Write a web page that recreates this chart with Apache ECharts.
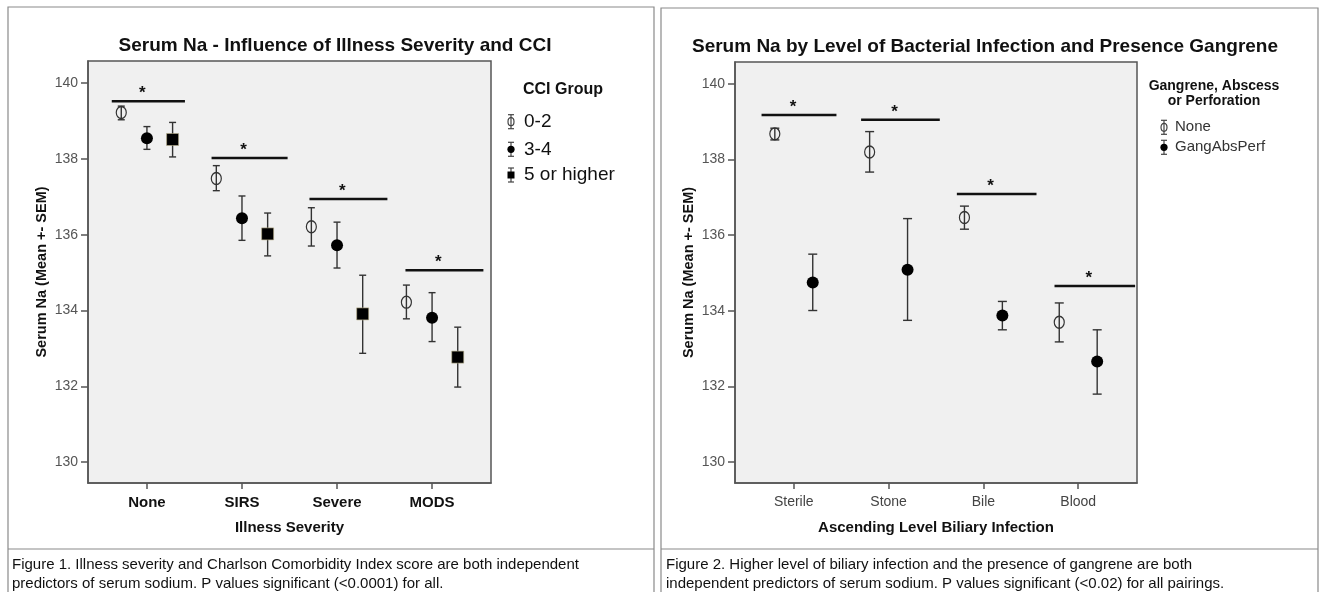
<!DOCTYPE html>
<html>
<head>
<meta charset="utf-8">
<script src="https://cdn.jsdelivr.net/npm/echarts@6/dist/echarts.min.js"></script>
<style>
  html, body { margin: 0; padding: 0; background: #fff; }
  #chart { width: 1322px; height: 592px; }
</style>
</head>
<body>
<div id="chart"></div>
<script>
// figure 1 - illness severity x CCI group
const severityCats = ['None', 'SIRS', 'Severe', 'MODS'];
const cciGroups = ['0-2', '3-4', '5 or higher'];
const cciMean = [
  [139.22, 137.48, 136.21, 134.22],
  [138.54, 136.43, 135.72, 133.81],
  [138.51, 136.02, 133.91, 132.77],
];
const cciLow = [
  [139.03, 137.16, 135.70, 133.78],
  [138.25, 135.85, 135.12, 133.18],
  [138.05, 135.44, 132.87, 131.98],
];
const cciHigh = [
  [139.39, 137.82, 136.71, 134.67],
  [138.85, 137.02, 136.33, 134.47],
  [138.96, 136.57, 134.93, 133.56],
];
const cciSigY = [139.52, 138.02, 136.94, 135.06];
const cciSigFrom = [-0.37, -0.32, -0.29, -0.28];
const cciSigTo = [0.40, 0.48, 0.53, 0.54];

// figure 2 - biliary infection x gangrene
const infectionCats = ['Sterile', 'Stone', 'Bile', 'Blood'];
const gangGroups = ['None', 'GangAbsPerf'];
const gangMean = [
  [138.68, 138.20, 136.47, 133.70],
  [134.75, 135.09, 133.88, 132.66],
];
const gangLow = [
  [138.52, 137.67, 136.16, 133.18],
  [134.01, 133.75, 133.50, 131.80],
];
const gangHigh = [
  [138.83, 138.74, 136.77, 134.21],
  [135.50, 136.44, 134.25, 133.50],
];
const gangSigY = [139.18, 139.05, 137.09, 134.66];
const gangSigFrom = [-0.34, -0.29, -0.28, -0.25];
const gangSigTo = [0.45, 0.54, 0.56, 0.60];

const yTicks = [130, 132, 134, 136, 138, 140];
const catTicks = [0, 1, 2, 3];

const FONT = 'Liberation Sans, Arial, sans-serif';

const chart = echarts.init(document.getElementById('chart'));

function errorBar(capHalf) {
  return (params, api) => {
    const x = api.value(0);
    const lo = api.coord([x, api.value(1)]);
    const hi = api.coord([x, api.value(2)]);
    const st = { stroke: '#333', lineWidth: 1.4 };
    return {
      type: 'group',
      children: [
        { type: 'line', shape: { x1: lo[0], y1: lo[1], x2: hi[0], y2: hi[1] }, style: st },
        { type: 'line', shape: { x1: lo[0] - capHalf, y1: lo[1], x2: lo[0] + capHalf, y2: lo[1] }, style: st },
        { type: 'line', shape: { x1: hi[0] - capHalf, y1: hi[1], x2: hi[0] + capHalf, y2: hi[1] }, style: st },
      ],
    };
  };
}

function sigBar(params, api) {
  const c = api.value(0);
  const y = api.value(1);
  const p1 = api.coord([c + api.value(2), y]);
  const p2 = api.coord([c + api.value(3), y]);
  return {
    type: 'group',
    children: [
      { type: 'line', shape: { x1: p1[0], y1: p1[1], x2: p2[0], y2: p2[1] }, style: { stroke: '#111', lineWidth: 2.5 } },
      {
        type: 'text',
        x: (p1[0] + p2[0]) / 2 - 6,
        y: p1[1] + 1,
        style: { text: '*', fill: '#111', font: 'bold 17px ' + FONT, align: 'center', verticalAlign: 'bottom' },
      },
    ],
  };
}

const markerStyle = [
  { symbol: 'circle', symbolSize: [10, 12], itemStyle: { color: 'transparent', borderColor: '#333', borderWidth: 1.3, opacity: 1 } },
  { symbol: 'circle', symbolSize: 12, itemStyle: { color: '#000', opacity: 1 } },
  { symbol: 'rect', symbolSize: 12, itemStyle: { color: '#000', borderColor: '#b8b08a', borderWidth: 0.6, opacity: 1 } },
];

function buildSeries(idx, groups, mean, low, high, step, cap, sigY, sigFrom, sigTo) {
  const out = [];
  groups.forEach((g, gi) => {
    const off = (gi - (groups.length - 1) / 2) * step;
    out.push({
      type: 'custom',
      xAxisIndex: idx,
      yAxisIndex: idx,
      z: 2,
      silent: true,
      renderItem: errorBar(cap),
      data: mean[gi].map((m, ci) => [ci + off, low[gi][ci], high[gi][ci]]),
    });
    const ms = markerStyle[gi];
    out.push({
      type: 'scatter',
      name: g,
      xAxisIndex: idx,
      yAxisIndex: idx,
      z: 3,
      silent: true,
      symbol: ms.symbol,
      symbolSize: ms.symbolSize,
      itemStyle: ms.itemStyle,
      data: mean[gi].map((m, ci) => [ci + off, m]),
    });
  });
  out.push({
    type: 'custom',
    xAxisIndex: idx,
    yAxisIndex: idx,
    z: 4,
    silent: true,
    renderItem: sigBar,
    data: sigY.map((y, ci) => [ci, y, sigFrom[ci], sigTo[ci]]),
  });
  return out;
}

function xAxisFor(idx, cats, bold, name) {
  return {
    type: 'value',
    gridIndex: idx,
    min: -0.62,
    max: 3.62,
    name: name,
    nameLocation: 'middle',
    nameGap: 37,
    nameTextStyle: { fontFamily: FONT, fontWeight: 'bold', fontSize: 15, color: '#111' },
    axisLine: { onZero: false, lineStyle: { color: '#555', width: 1.5 } },
    axisTick: { customValues: catTicks, length: 6, lineStyle: { color: '#555', width: 1.5 } },
    axisLabel: {
      customValues: catTicks,
      margin: 12,
      formatter: (v) => cats[Math.round(v)],
      fontFamily: FONT,
      fontSize: bold ? 15 : 14,
      fontWeight: bold ? 'bold' : 'normal',
      color: bold ? '#111' : '#444',
    },
    splitLine: { show: false },
  };
}

function yAxisFor(idx) {
  return {
    type: 'value',
    gridIndex: idx,
    min: 129.45,
    max: 140.58,
    name: 'Serum Na (Mean +- SEM)',
    nameLocation: 'middle',
    nameRotate: 90,
    nameGap: 39,
    nameTextStyle: { fontFamily: FONT, fontWeight: 'bold', fontSize: 14.5, color: '#111' },
    axisLine: { show: true, onZero: false, lineStyle: { color: '#555', width: 1.5 } },
    axisTick: { show: true, customValues: yTicks, length: 7, lineStyle: { color: '#555', width: 1.5 } },
    axisLabel: { customValues: yTicks, margin: 10, fontFamily: FONT, fontSize: 14, color: '#555' },
    splitLine: { show: false },
  };
}

function legendIcon(x, y, kind) {
  const st = { stroke: '#444', lineWidth: 1.2 };
  const kids = [
    { type: 'line', shape: { x1: x, y1: y - 7, x2: x, y2: y + 7 }, style: st },
    { type: 'line', shape: { x1: x - 3, y1: y - 7, x2: x + 3, y2: y - 7 }, style: st },
    { type: 'line', shape: { x1: x - 3, y1: y + 7, x2: x + 3, y2: y + 7 }, style: st },
  ];
  if (kind === 0) kids.push({ type: 'ellipse', shape: { cx: x, cy: y, rx: 3, ry: 4 }, style: { fill: 'none', stroke: '#444', lineWidth: 1.2 } });
  if (kind === 1) kids.push({ type: 'circle', shape: { cx: x, cy: y, r: 3.6 }, style: { fill: '#000' } });
  if (kind === 2) kids.push({ type: 'rect', shape: { x: x - 3.5, y: y - 3.5, width: 7, height: 7 }, style: { fill: '#000' } });
  return { type: 'group', children: kids };
}

const graphics = [
  // panel frames
  { type: 'rect', shape: { x: 8, y: 7, width: 646, height: 600 }, style: { fill: 'none', stroke: '#8a8a8a', lineWidth: 1.2 } },
  { type: 'line', shape: { x1: 8, y1: 549, x2: 654, y2: 549 }, style: { stroke: '#8a8a8a', lineWidth: 1.2 } },
  { type: 'rect', shape: { x: 661, y: 8, width: 657, height: 600 }, style: { fill: 'none', stroke: '#8a8a8a', lineWidth: 1.2 } },
  { type: 'line', shape: { x1: 661, y1: 549, x2: 1318, y2: 549 }, style: { stroke: '#8a8a8a', lineWidth: 1.2 } },
  // captions
  {
    type: 'text', left: 12, top: 555,
    style: {
      text: 'Figure 1. Illness severity and Charlson Comorbidity Index score are both independent\npredictors of serum sodium. P values significant (<0.0001) for all.',
      font: '15px ' + FONT, fill: '#111', lineHeight: 19,
    },
  },
  {
    type: 'text', left: 666, top: 555,
    style: {
      text: 'Figure 2. Higher level of biliary infection and the presence of gangrene are both\nindependent predictors of serum sodium. P values significant (<0.02) for all pairings.',
      font: '15px ' + FONT, fill: '#111', lineHeight: 19,
    },
  },
  // legend 1
  { type: 'text', x: 563, y: 90, style: { text: 'CCI Group', font: 'bold 16px ' + FONT, fill: '#111', align: 'center', verticalAlign: 'middle' } },
];
[121.7, 149.3, 175].forEach((y, i) => {
  graphics.push(legendIcon(511, y, i));
  graphics.push({ type: 'text', x: 524, y: y, style: { text: cciGroups[i], font: '19px ' + FONT, fill: '#111', verticalAlign: 'middle' } });
});
// legend 2
graphics.push({ type: 'text', x: 1214, y: 94, style: { text: 'Gangrene, Abscess\nor Perforation', font: 'bold 14px ' + FONT, fill: '#111', align: 'center', verticalAlign: 'middle', lineHeight: 15 } });
[127.3, 147.3].forEach((y, i) => {
  graphics.push(legendIcon(1164, y, i));
  graphics.push({ type: 'text', x: 1175, y: y, style: { text: gangGroups[i], font: '15px ' + FONT, fill: '#333', verticalAlign: 'middle' } });
});

const option = {
  animation: false,
  backgroundColor: '#fff',
  title: [
    { text: 'Serum Na - Influence of Illness Severity and CCI', left: 330, top: 31, textAlign: 'center',
      textStyle: { fontFamily: FONT, fontWeight: 'bold', fontSize: 19, color: '#111' } },
    { text: 'Serum Na by Level of Bacterial Infection and Presence Gangrene', left: 980, top: 32, textAlign: 'center',
      textStyle: { fontFamily: FONT, fontWeight: 'bold', fontSize: 19, color: '#111' } },
  ],
  grid: [
    { left: 88, top: 61, width: 403, height: 422, show: true, backgroundColor: '#f0f0f0', borderColor: '#555', borderWidth: 1.5 },
    { left: 735, top: 62, width: 402, height: 421, show: true, backgroundColor: '#f0f0f0', borderColor: '#555', borderWidth: 1.5 },
  ],
  xAxis: [
    xAxisFor(0, severityCats, true, 'Illness Severity'),
    xAxisFor(1, infectionCats, false, 'Ascending Level Biliary Infection'),
  ],
  yAxis: [yAxisFor(0), yAxisFor(1)],
  series: [
    ...buildSeries(0, cciGroups, cciMean, cciLow, cciHigh, 0.27, 3.5, cciSigY, cciSigFrom, cciSigTo),
    ...buildSeries(1, gangGroups, gangMean, gangLow, gangHigh, 0.4, 4.5, gangSigY, gangSigFrom, gangSigTo),
  ],
  graphic: graphics,
};

chart.setOption(option);
</script>
</body>
</html>
